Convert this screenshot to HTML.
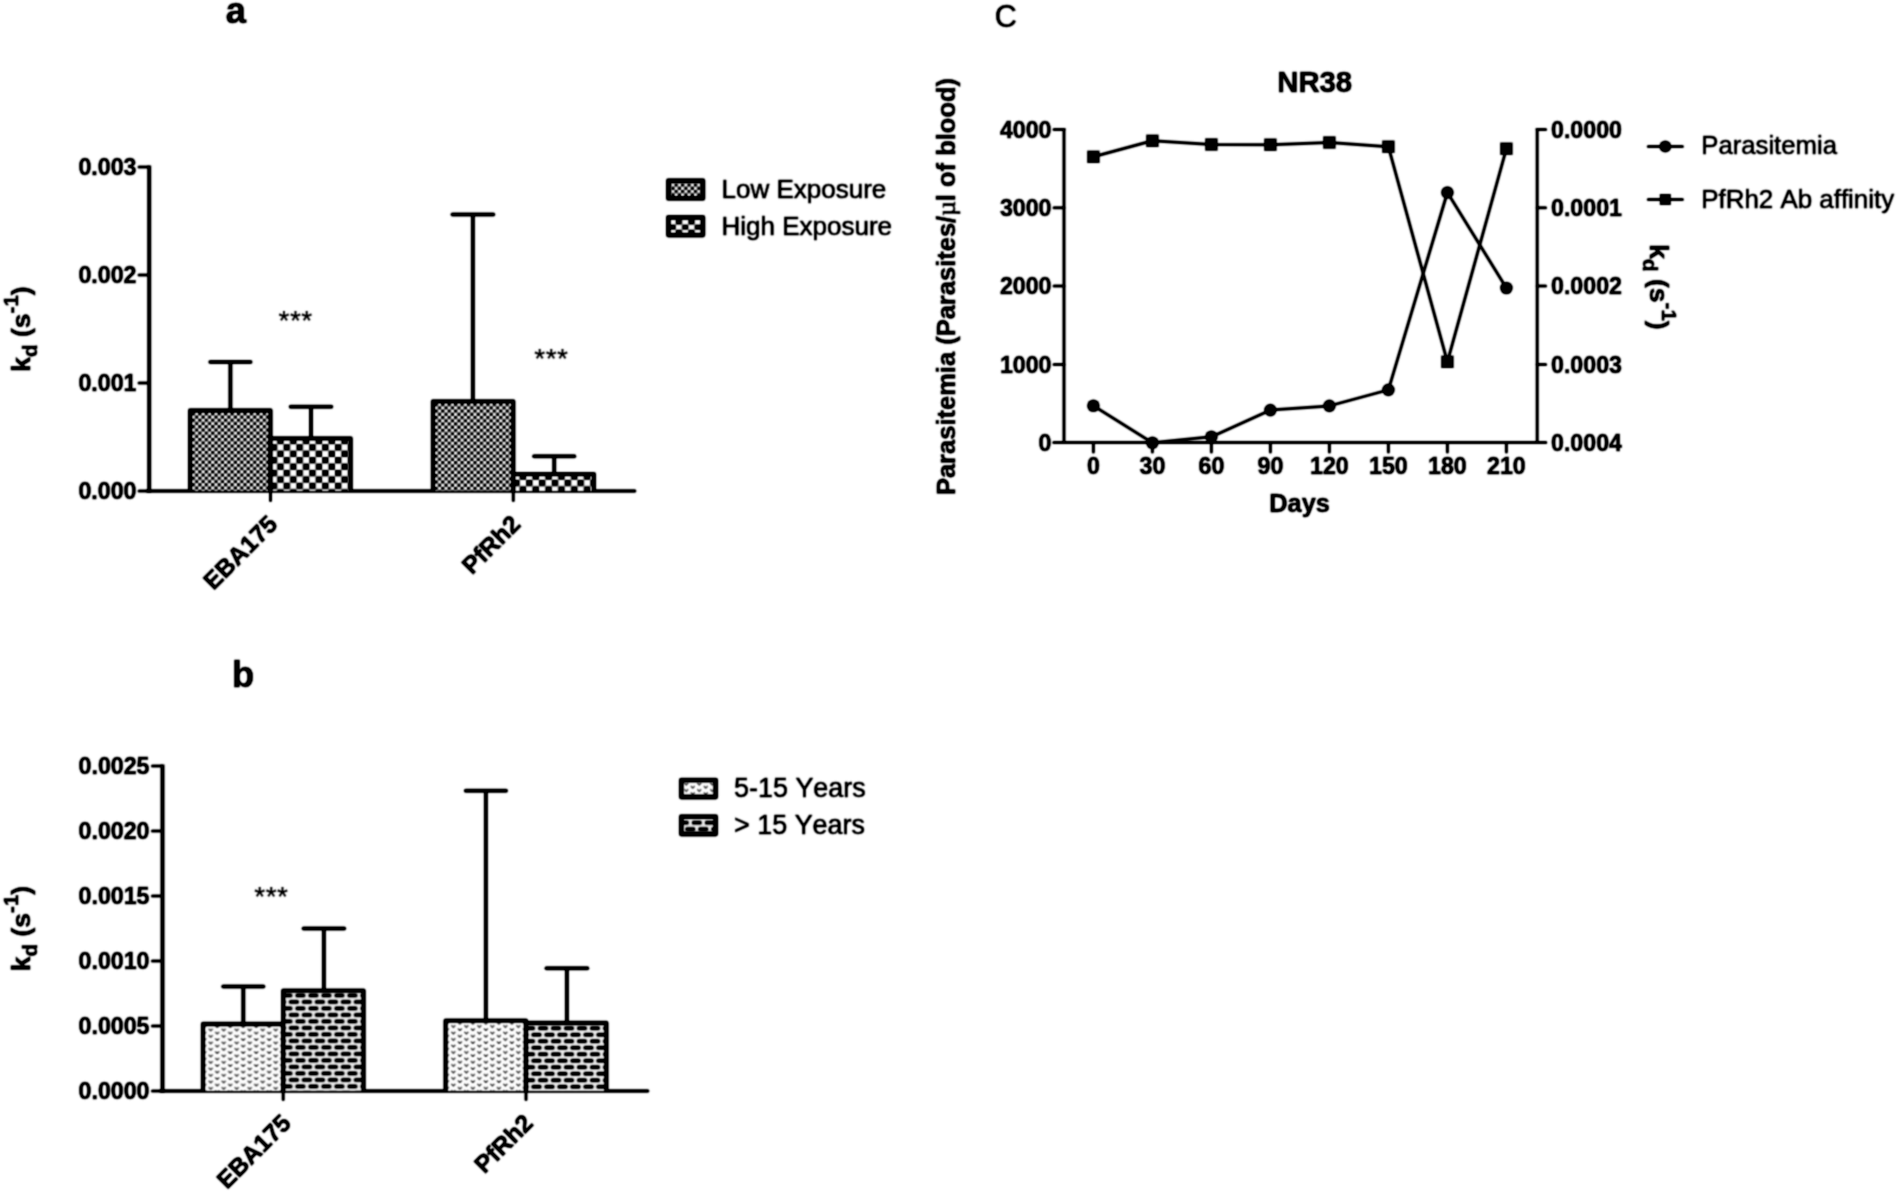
<!DOCTYPE html>
<html lang="en">
<head>
<meta charset="utf-8">
<title>Figure: antibody affinity (kd) by exposure, age and over time (NR38)</title>
<style>
html,body{margin:0;padding:0;background:#fff;}
body{width:1900px;height:1194px;overflow:hidden;}
svg{display:block;font-family:"Liberation Sans", sans-serif;fill:#000;font-kerning:none;}
text{stroke:#000;stroke-width:0.5px;stroke-linejoin:round;}
</style>
</head>
<body>
<svg width="1900" height="1194" viewBox="0 0 1900 1194">

<defs><filter id="soft" x="-10" y="-10" width="1920" height="1214" filterUnits="userSpaceOnUse" color-interpolation-filters="sRGB"><feConvolveMatrix order="5" kernelMatrix="0.000481 0.005011 0.010945 0.005011 0.000481 0.005011 0.052218 0.114054 0.052218 0.005011 0.010945 0.114054 0.249117 0.114054 0.010945 0.005011 0.052218 0.114054 0.052218 0.005011 0.000481 0.005011 0.010945 0.005011 0.000481" divisor="1" edgeMode="duplicate" preserveAlpha="true"/><feComponentTransfer><feFuncR type="linear" slope="1.15" intercept="-0.15"/><feFuncG type="linear" slope="1.15" intercept="-0.15"/><feFuncB type="linear" slope="1.15" intercept="-0.15"/></feComponentTransfer></filter></defs>
<g filter="url(#soft)">
<rect x="-10" y="-10" width="1920" height="1214" fill="#fff"/>

<text x="225.8" y="22.5" font-size="36.3" font-weight="bold" text-anchor="start" >a</text>
<line x1="149.2" y1="165.5" x2="149.2" y2="493" stroke="#000" stroke-width="4" stroke-linecap="butt"/>
<line x1="147.2" y1="491" x2="634.6" y2="491" stroke="#000" stroke-width="3.6" stroke-linecap="round"/>
<line x1="139" y1="167" x2="149.2" y2="167" stroke="#000" stroke-width="3" stroke-linecap="round"/>
<text x="136.5" y="175.3" font-size="23.2" font-weight="bold" text-anchor="end" >0.003</text>
<line x1="139" y1="275" x2="149.2" y2="275" stroke="#000" stroke-width="3" stroke-linecap="round"/>
<text x="136.5" y="283.3" font-size="23.2" font-weight="bold" text-anchor="end" >0.002</text>
<line x1="139" y1="383" x2="149.2" y2="383" stroke="#000" stroke-width="3" stroke-linecap="round"/>
<text x="136.5" y="391.3" font-size="23.2" font-weight="bold" text-anchor="end" >0.001</text>
<line x1="139" y1="491" x2="149.2" y2="491" stroke="#000" stroke-width="3" stroke-linecap="round"/>
<text x="136.5" y="499.3" font-size="23.2" font-weight="bold" text-anchor="end" >0.000</text>
<pattern id="p1" patternUnits="userSpaceOnUse" x="191.8" y="412.2" width="6.45" height="6.45"><rect width="6.45" height="6.45" fill="#fff"/><rect width="3.225" height="3.225" fill="#000"/><rect x="3.225" y="3.225" width="3.225" height="3.225" fill="#000"/></pattern>
<rect x="190.1" y="410.5" width="80.4" height="80.5" fill="url(#p1)"/>
<path d="M190.1 491 V410.5 H270.5 V491" fill="none" stroke="#000" stroke-width="4.3" stroke-linejoin="round"/>
<pattern id="p2" patternUnits="userSpaceOnUse" x="283.6" y="444.2" width="12.84" height="12.84"><rect width="12.84" height="12.84" fill="#fff"/><rect width="6.42" height="6.42" fill="#000"/><rect x="6.42" y="6.42" width="6.42" height="6.42" fill="#000"/></pattern>
<rect x="270.5" y="438.4" width="80.2" height="52.6" fill="url(#p2)"/>
<path d="M270.5 491 V438.4 H350.7 V491" fill="none" stroke="#000" stroke-width="4.3" stroke-linejoin="round"/>
<pattern id="p3" patternUnits="userSpaceOnUse" x="434.7" y="403" width="6.45" height="6.45"><rect width="6.45" height="6.45" fill="#fff"/><rect width="3.225" height="3.225" fill="#000"/><rect x="3.225" y="3.225" width="3.225" height="3.225" fill="#000"/></pattern>
<rect x="433.0" y="401.3" width="80.3" height="89.7" fill="url(#p3)"/>
<path d="M433.0 491 V401.3 H513.3 V491" fill="none" stroke="#000" stroke-width="4.3" stroke-linejoin="round"/>
<pattern id="p4" patternUnits="userSpaceOnUse" x="526.1" y="479.8" width="12.84" height="12.84"><rect width="12.84" height="12.84" fill="#fff"/><rect width="6.42" height="6.42" fill="#000"/><rect x="6.42" y="6.42" width="6.42" height="6.42" fill="#000"/></pattern>
<rect x="513.3" y="474.1" width="80.6" height="16.9" fill="url(#p4)"/>
<path d="M513.3 491 V474.1 H593.9 V491" fill="none" stroke="#000" stroke-width="4.3" stroke-linejoin="round"/>
<line x1="230.4" y1="362" x2="230.4" y2="410" stroke="#000" stroke-width="4" stroke-linecap="butt"/>
<line x1="210.3" y1="362" x2="250.5" y2="362" stroke="#000" stroke-width="4" stroke-linecap="round"/>
<line x1="311.0" y1="406.7" x2="311.0" y2="438" stroke="#000" stroke-width="4" stroke-linecap="butt"/>
<line x1="290.7" y1="406.7" x2="331.3" y2="406.7" stroke="#000" stroke-width="4" stroke-linecap="round"/>
<line x1="472.9" y1="214.6" x2="472.9" y2="401" stroke="#000" stroke-width="4" stroke-linecap="butt"/>
<line x1="452.5" y1="214.6" x2="493.29999999999995" y2="214.6" stroke="#000" stroke-width="4" stroke-linecap="round"/>
<line x1="554.2" y1="456.2" x2="554.2" y2="473" stroke="#000" stroke-width="4" stroke-linecap="butt"/>
<line x1="534.1" y1="456.2" x2="574.3000000000001" y2="456.2" stroke="#000" stroke-width="4" stroke-linecap="round"/>
<line x1="270.5" y1="491" x2="270.5" y2="500.4" stroke="#000" stroke-width="3" stroke-linecap="round"/>
<line x1="513.3" y1="491" x2="513.3" y2="500.4" stroke="#000" stroke-width="3" stroke-linecap="round"/>
<text x="295.6" y="330" font-size="28" font-weight="normal" text-anchor="middle" letter-spacing="0.5" style="stroke-width:0.15px">***</text>
<text x="551.4" y="368.3" font-size="28" font-weight="normal" text-anchor="middle" letter-spacing="0.5" style="stroke-width:0.15px">***</text>
<text transform="translate(279,525.5) rotate(-45)" font-size="24.5" font-weight="bold" text-anchor="end">EBA175</text>
<text transform="translate(522,525.5) rotate(-45)" font-size="24.5" font-weight="bold" text-anchor="end">PfRh2</text>
<text transform="translate(29.5,329) rotate(-90)" font-size="26.5" font-weight="bold" text-anchor="middle">k<tspan font-size="20.5" dy="7">d</tspan><tspan dy="-7"> (s</tspan><tspan font-size="20.5" dy="-12">-1</tspan><tspan dy="12">)</tspan></text>
<pattern id="p5" patternUnits="userSpaceOnUse" x="674.55" y="183.45" width="6.45" height="6.45"><rect width="6.45" height="6.45" fill="#fff"/><rect width="3.225" height="3.225" fill="#000"/><rect x="3.225" y="3.225" width="3.225" height="3.225" fill="#000"/></pattern>
<rect x="668.4" y="180.6" width="34.5" height="17.8" fill="url(#p5)" stroke="#000" stroke-width="4.8" stroke-linejoin="round"/>
<pattern id="p6" patternUnits="userSpaceOnUse" x="675.75" y="219.575" width="12.6" height="10.1"><rect width="12.6" height="10.1" fill="#fff"/><rect width="6.3" height="5.05" fill="#000"/><rect x="6.3" y="5.05" width="6.3" height="5.05" fill="#000"/></pattern>
<rect x="668.4" y="217.3" width="34.5" height="17.8" fill="url(#p6)" stroke="#000" stroke-width="4.8" stroke-linejoin="round"/>
<text x="721.5" y="198.3" font-size="26.0" font-weight="normal" text-anchor="start" >Low Exposure</text>
<text x="721.5" y="235.3" font-size="26.0" font-weight="normal" text-anchor="start" >High Exposure</text>
<text x="232.0" y="686.8" font-size="36.3" font-weight="bold" text-anchor="start" >b</text>
<line x1="162.5" y1="764.5" x2="162.5" y2="1093" stroke="#000" stroke-width="4" stroke-linecap="butt"/>
<line x1="160.5" y1="1091" x2="647.6" y2="1091" stroke="#000" stroke-width="3.6" stroke-linecap="round"/>
<line x1="152.4" y1="766" x2="162.5" y2="766" stroke="#000" stroke-width="3" stroke-linecap="round"/>
<text x="149.5" y="774.3" font-size="23.2" font-weight="bold" text-anchor="end" >0.0025</text>
<line x1="152.4" y1="831" x2="162.5" y2="831" stroke="#000" stroke-width="3" stroke-linecap="round"/>
<text x="149.5" y="839.3" font-size="23.2" font-weight="bold" text-anchor="end" >0.0020</text>
<line x1="152.4" y1="896" x2="162.5" y2="896" stroke="#000" stroke-width="3" stroke-linecap="round"/>
<text x="149.5" y="904.3" font-size="23.2" font-weight="bold" text-anchor="end" >0.0015</text>
<line x1="152.4" y1="961" x2="162.5" y2="961" stroke="#000" stroke-width="3" stroke-linecap="round"/>
<text x="149.5" y="969.3" font-size="23.2" font-weight="bold" text-anchor="end" >0.0010</text>
<line x1="152.4" y1="1026" x2="162.5" y2="1026" stroke="#000" stroke-width="3" stroke-linecap="round"/>
<text x="149.5" y="1034.3" font-size="23.2" font-weight="bold" text-anchor="end" >0.0005</text>
<line x1="152.4" y1="1091" x2="162.5" y2="1091" stroke="#000" stroke-width="3" stroke-linecap="round"/>
<text x="149.5" y="1099.3" font-size="23.2" font-weight="bold" text-anchor="end" >0.0000</text>
<pattern id="p7" patternUnits="userSpaceOnUse" x="207.45" y="1027.9" width="13" height="6.5"><rect width="13" height="6.5" fill="#fff"/><path d="M1.25 0.8 L3.25 2.8 L5.25 0.8 M7.75 4.05 L9.75 6.05 L11.75 4.05" fill="none" stroke="#2a2a2a" stroke-width="1.25"/></pattern>
<rect x="203.0" y="1024.0" width="80.2" height="67.0" fill="url(#p7)"/>
<path d="M203.0 1091 V1024.0 H283.2 V1091" fill="none" stroke="#000" stroke-width="4.3" stroke-linejoin="round"/>
<pattern id="p8" patternUnits="userSpaceOnUse" x="290.65" y="992.15" width="13" height="13"><rect width="13" height="13" fill="#efefef"/><rect x="4.80" y="1.25" width="9.9" height="4.0" rx="1.6" fill="#000"/><rect x="-8.20" y="1.25" width="9.9" height="4.0" rx="1.6" fill="#000"/><rect x="-1.70" y="7.75" width="9.9" height="4.0" rx="1.6" fill="#000"/><rect x="11.30" y="7.75" width="9.9" height="4.0" rx="1.6" fill="#000"/></pattern>
<rect x="283.2" y="990.7" width="80.4" height="100.3" fill="url(#p8)"/>
<path d="M283.2 1091 V990.7 H363.6 V1091" fill="none" stroke="#000" stroke-width="4.3" stroke-linejoin="round"/>
<pattern id="p9" patternUnits="userSpaceOnUse" x="450.15" y="1024.5" width="13" height="6.5"><rect width="13" height="6.5" fill="#fff"/><path d="M1.25 0.8 L3.25 2.8 L5.25 0.8 M7.75 4.05 L9.75 6.05 L11.75 4.05" fill="none" stroke="#2a2a2a" stroke-width="1.25"/></pattern>
<rect x="445.6" y="1020.7" width="80.4" height="70.3" fill="url(#p9)"/>
<path d="M445.6 1091 V1020.7 H526 V1091" fill="none" stroke="#000" stroke-width="4.3" stroke-linejoin="round"/>
<pattern id="p10" patternUnits="userSpaceOnUse" x="533.25" y="1024.95" width="13" height="13"><rect width="13" height="13" fill="#efefef"/><rect x="4.80" y="1.25" width="9.9" height="4.0" rx="1.6" fill="#000"/><rect x="-8.20" y="1.25" width="9.9" height="4.0" rx="1.6" fill="#000"/><rect x="-1.70" y="7.75" width="9.9" height="4.0" rx="1.6" fill="#000"/><rect x="11.30" y="7.75" width="9.9" height="4.0" rx="1.6" fill="#000"/></pattern>
<rect x="526" y="1023.0" width="80.4" height="68.0" fill="url(#p10)"/>
<path d="M526 1091 V1023.0 H606.4 V1091" fill="none" stroke="#000" stroke-width="4.3" stroke-linejoin="round"/>
<line x1="243.3" y1="986.6" x2="243.3" y2="1023" stroke="#000" stroke-width="4" stroke-linecap="butt"/>
<line x1="223.20000000000002" y1="986.6" x2="263.40000000000003" y2="986.6" stroke="#000" stroke-width="4" stroke-linecap="round"/>
<line x1="323.9" y1="928.5" x2="323.9" y2="990" stroke="#000" stroke-width="4" stroke-linecap="butt"/>
<line x1="303.59999999999997" y1="928.5" x2="344.2" y2="928.5" stroke="#000" stroke-width="4" stroke-linecap="round"/>
<line x1="485.9" y1="790.8" x2="485.9" y2="1020" stroke="#000" stroke-width="4" stroke-linecap="butt"/>
<line x1="465.79999999999995" y1="790.8" x2="506.0" y2="790.8" stroke="#000" stroke-width="4" stroke-linecap="round"/>
<line x1="566.9" y1="968.2" x2="566.9" y2="1022" stroke="#000" stroke-width="4" stroke-linecap="butt"/>
<line x1="546.5" y1="968.2" x2="587.3" y2="968.2" stroke="#000" stroke-width="4" stroke-linecap="round"/>
<line x1="283.2" y1="1091" x2="283.2" y2="1099.4" stroke="#000" stroke-width="3" stroke-linecap="round"/>
<line x1="526" y1="1091" x2="526" y2="1099.4" stroke="#000" stroke-width="3" stroke-linecap="round"/>
<text x="271.4" y="906.3" font-size="28" font-weight="normal" text-anchor="middle" letter-spacing="0.5" style="stroke-width:0.15px">***</text>
<text transform="translate(292.5,1124.5) rotate(-45)" font-size="24.5" font-weight="bold" text-anchor="end">EBA175</text>
<text transform="translate(534.5,1124.5) rotate(-45)" font-size="24.5" font-weight="bold" text-anchor="end">PfRh2</text>
<text transform="translate(29.5,928.5) rotate(-90)" font-size="26.5" font-weight="bold" text-anchor="middle">k<tspan font-size="20.5" dy="7">d</tspan><tspan dy="-7"> (s</tspan><tspan font-size="20.5" dy="-12">-1</tspan><tspan dy="12">)</tspan></text>
<pattern id="p11" patternUnits="userSpaceOnUse" x="683" y="782" width="13" height="6.5"><rect width="13" height="6.5" fill="#fff"/><path d="M1.25 0.8 L3.25 2.8 L5.25 0.8 M7.75 4.05 L9.75 6.05 L11.75 4.05" fill="none" stroke="#2a2a2a" stroke-width="1.25"/></pattern>
<rect x="681.3" y="780.1" width="34.4" height="16.9" fill="url(#p11)" stroke="#000" stroke-width="4.8" stroke-linejoin="round"/>
<pattern id="p12" patternUnits="userSpaceOnUse" x="674.05" y="819.4" width="13" height="13"><rect width="13" height="13" fill="#efefef"/><rect x="4.80" y="1.25" width="9.9" height="4.0" rx="1.6" fill="#000"/><rect x="-8.20" y="1.25" width="9.9" height="4.0" rx="1.6" fill="#000"/><rect x="-1.70" y="7.75" width="9.9" height="4.0" rx="1.6" fill="#000"/><rect x="11.30" y="7.75" width="9.9" height="4.0" rx="1.6" fill="#000"/></pattern>
<rect x="681.3" y="816.7" width="34.4" height="17.3" fill="url(#p12)" stroke="#000" stroke-width="4.8" stroke-linejoin="round"/>
<text x="734.1" y="797" font-size="26.9" font-weight="normal" text-anchor="start" >5-15 Years</text>
<text x="734.1" y="834" font-size="26.9" font-weight="normal" text-anchor="start" >&gt; 15 Years</text>
<text x="994.8" y="26.9" font-size="30.5" font-weight="normal" text-anchor="start" >C</text>
<text x="1314.7" y="92" font-size="29.3" font-weight="bold" text-anchor="middle" >NR38</text>
<line x1="1064" y1="128.0" x2="1064" y2="444.0" stroke="#000" stroke-width="3" stroke-linecap="butt"/>
<line x1="1537.2" y1="128.0" x2="1537.2" y2="444.0" stroke="#000" stroke-width="3" stroke-linecap="butt"/>
<line x1="1054" y1="442.5" x2="1545.6" y2="442.5" stroke="#000" stroke-width="3" stroke-linecap="round"/>
<line x1="1054" y1="129.5" x2="1064" y2="129.5" stroke="#000" stroke-width="3" stroke-linecap="round"/>
<line x1="1537.2" y1="129.5" x2="1545.6" y2="129.5" stroke="#000" stroke-width="3" stroke-linecap="round"/>
<text x="1051.5" y="137.7" font-size="23.2" font-weight="bold" text-anchor="end" >4000</text>
<text x="1551" y="137.7" font-size="23.2" font-weight="bold" text-anchor="start" >0.0000</text>
<line x1="1054" y1="207.8" x2="1064" y2="207.8" stroke="#000" stroke-width="3" stroke-linecap="round"/>
<line x1="1537.2" y1="207.8" x2="1545.6" y2="207.8" stroke="#000" stroke-width="3" stroke-linecap="round"/>
<text x="1051.5" y="216.0" font-size="23.2" font-weight="bold" text-anchor="end" >3000</text>
<text x="1551" y="216.0" font-size="23.2" font-weight="bold" text-anchor="start" >0.0001</text>
<line x1="1054" y1="286.1" x2="1064" y2="286.1" stroke="#000" stroke-width="3" stroke-linecap="round"/>
<line x1="1537.2" y1="286.1" x2="1545.6" y2="286.1" stroke="#000" stroke-width="3" stroke-linecap="round"/>
<text x="1051.5" y="294.3" font-size="23.2" font-weight="bold" text-anchor="end" >2000</text>
<text x="1551" y="294.3" font-size="23.2" font-weight="bold" text-anchor="start" >0.0002</text>
<line x1="1054" y1="364.4" x2="1064" y2="364.4" stroke="#000" stroke-width="3" stroke-linecap="round"/>
<line x1="1537.2" y1="364.4" x2="1545.6" y2="364.4" stroke="#000" stroke-width="3" stroke-linecap="round"/>
<text x="1051.5" y="372.59999999999997" font-size="23.2" font-weight="bold" text-anchor="end" >1000</text>
<text x="1551" y="372.59999999999997" font-size="23.2" font-weight="bold" text-anchor="start" >0.0003</text>
<line x1="1054" y1="442.5" x2="1064" y2="442.5" stroke="#000" stroke-width="3" stroke-linecap="round"/>
<line x1="1537.2" y1="442.5" x2="1545.6" y2="442.5" stroke="#000" stroke-width="3" stroke-linecap="round"/>
<text x="1051.5" y="450.7" font-size="23.2" font-weight="bold" text-anchor="end" >0</text>
<text x="1551" y="450.7" font-size="23.2" font-weight="bold" text-anchor="start" >0.0004</text>
<line x1="1093.4" y1="442.5" x2="1093.4" y2="452" stroke="#000" stroke-width="3" stroke-linecap="round"/>
<text x="1093.4" y="473.6" font-size="23.2" font-weight="bold" text-anchor="middle" >0</text>
<line x1="1152.4" y1="442.5" x2="1152.4" y2="452" stroke="#000" stroke-width="3" stroke-linecap="round"/>
<text x="1152.4" y="473.6" font-size="23.2" font-weight="bold" text-anchor="middle" >30</text>
<line x1="1211.4" y1="442.5" x2="1211.4" y2="452" stroke="#000" stroke-width="3" stroke-linecap="round"/>
<text x="1211.4" y="473.6" font-size="23.2" font-weight="bold" text-anchor="middle" >60</text>
<line x1="1270.4" y1="442.5" x2="1270.4" y2="452" stroke="#000" stroke-width="3" stroke-linecap="round"/>
<text x="1270.4" y="473.6" font-size="23.2" font-weight="bold" text-anchor="middle" >90</text>
<line x1="1329.4" y1="442.5" x2="1329.4" y2="452" stroke="#000" stroke-width="3" stroke-linecap="round"/>
<text x="1329.4" y="473.6" font-size="23.2" font-weight="bold" text-anchor="middle" >120</text>
<line x1="1388.4" y1="442.5" x2="1388.4" y2="452" stroke="#000" stroke-width="3" stroke-linecap="round"/>
<text x="1388.4" y="473.6" font-size="23.2" font-weight="bold" text-anchor="middle" >150</text>
<line x1="1447.4" y1="442.5" x2="1447.4" y2="452" stroke="#000" stroke-width="3" stroke-linecap="round"/>
<text x="1447.4" y="473.6" font-size="23.2" font-weight="bold" text-anchor="middle" >180</text>
<line x1="1506.4" y1="442.5" x2="1506.4" y2="452" stroke="#000" stroke-width="3" stroke-linecap="round"/>
<text x="1506.4" y="473.6" font-size="23.2" font-weight="bold" text-anchor="middle" >210</text>
<text x="1299.6" y="512" font-size="25.3" font-weight="bold" text-anchor="middle" >Days</text>
<text transform="translate(954.5,286.5) rotate(-90)" font-size="25.5" font-weight="bold" text-anchor="middle">Parasitemia (Parasites/<tspan font-family="'Liberation Serif', serif" font-weight="normal">µ</tspan>l of blood)</text>
<text transform="translate(1650,287) rotate(90)" font-size="26.5" font-weight="bold" text-anchor="middle">k<tspan font-size="20.5" dy="7">d</tspan><tspan dy="-7"> (s</tspan><tspan font-size="20.5" dy="-12">-1</tspan><tspan dy="12">)</tspan></text>
<polyline fill="none" stroke="#000" stroke-width="3" stroke-linejoin="round" points="1093.4,405.7 1152.4,442.7 1211.4,436.8 1270.4,410.1 1329.4,405.9 1388.4,389.9 1447.4,192.5 1506.4,288"/>
<polyline fill="none" stroke="#000" stroke-width="3" stroke-linejoin="round" points="1093.4,156.8 1152.4,140.8 1211.4,144.5 1270.4,144.7 1329.4,142.5 1388.4,146.7 1447.4,361.8 1506.4,148.7"/>
<circle cx="1093.4" cy="405.7" r="6.3"/>
<circle cx="1152.4" cy="442.7" r="6.3"/>
<circle cx="1211.4" cy="436.8" r="6.3"/>
<circle cx="1270.4" cy="410.1" r="6.3"/>
<circle cx="1329.4" cy="405.9" r="6.3"/>
<circle cx="1388.4" cy="389.9" r="6.3"/>
<circle cx="1447.4" cy="192.5" r="6.3"/>
<circle cx="1506.4" cy="288" r="6.3"/>
<rect x="1087.2" y="150.6" width="12.4" height="12.4"/>
<rect x="1146.2" y="134.6" width="12.4" height="12.4"/>
<rect x="1205.2" y="138.3" width="12.4" height="12.4"/>
<rect x="1264.2" y="138.5" width="12.4" height="12.4"/>
<rect x="1323.2" y="136.3" width="12.4" height="12.4"/>
<rect x="1382.2" y="140.5" width="12.4" height="12.4"/>
<rect x="1441.2" y="355.6" width="12.4" height="12.4"/>
<rect x="1500.2" y="142.5" width="12.4" height="12.4"/>
<line x1="1648.3" y1="146.6" x2="1682.4" y2="146.6" stroke="#000" stroke-width="3" stroke-linecap="round"/>
<circle cx="1665.3" cy="146.6" r="6"/>
<line x1="1648.3" y1="199.5" x2="1682.4" y2="199.5" stroke="#000" stroke-width="3" stroke-linecap="round"/>
<rect x="1659.8" y="194" width="11" height="11"/>
<text x="1701.3" y="154.3" font-size="25.7" font-weight="normal" text-anchor="start" >Parasitemia</text>
<text x="1701.3" y="208" font-size="25.9" font-weight="normal" text-anchor="start" >PfRh2 Ab affinity</text>
</g>
</svg>
</body>
</html>
